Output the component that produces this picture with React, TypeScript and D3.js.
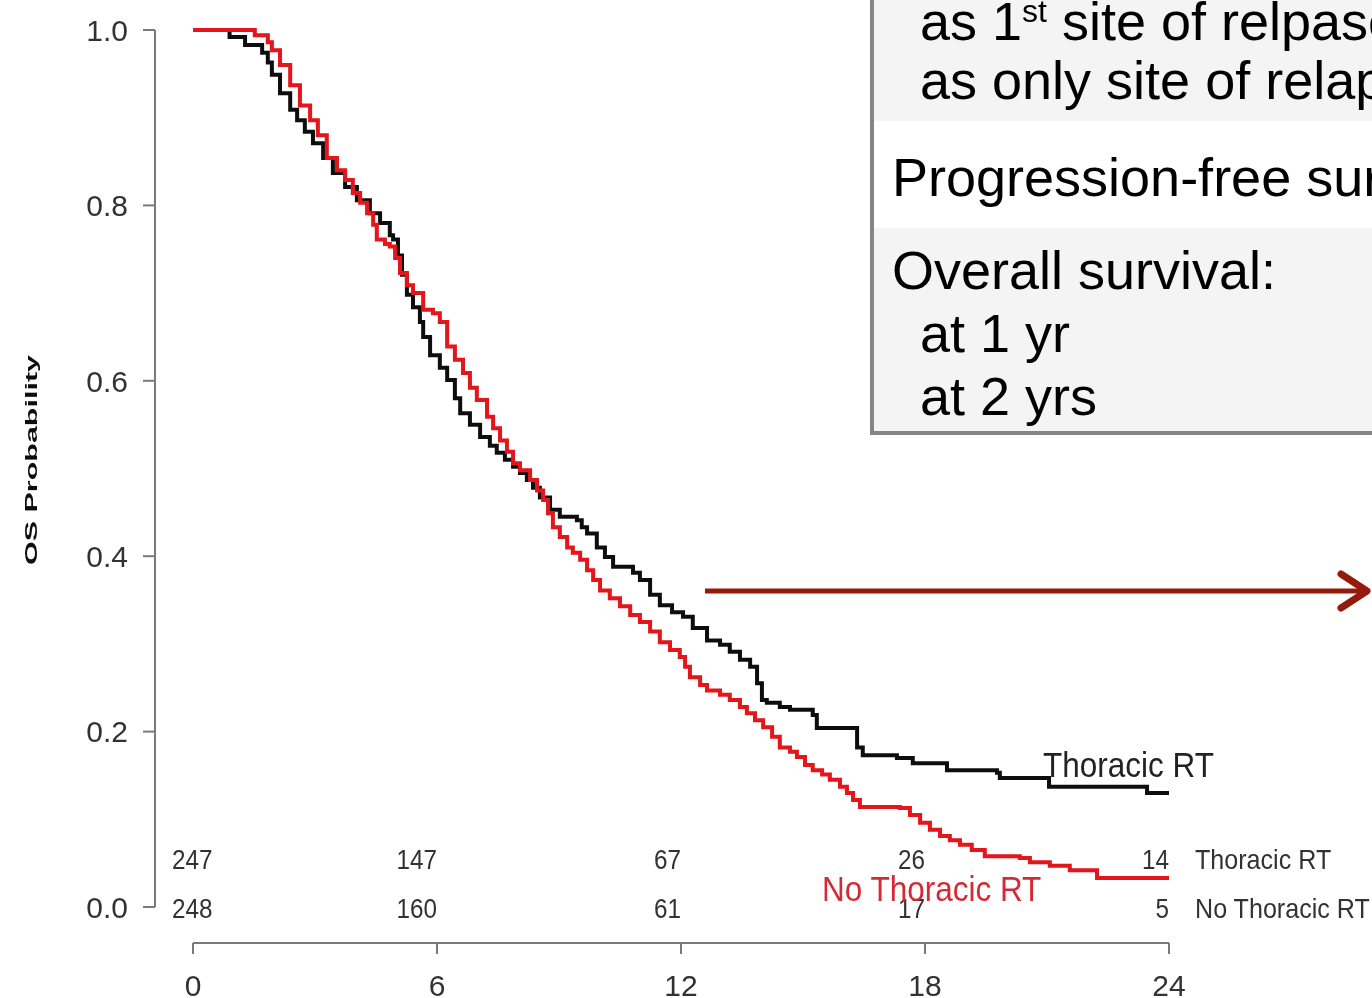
import React from "react";
import * as d3 from "d3";

// Kaplan–Meier estimates: [months, survival probability]
const thoracicRT: [number, number][] = [
  [0, 1.0], [0.7, 1.0], [0.9, 0.992], [1.28, 0.983], [1.7, 0.974], [1.84, 0.963], [1.94, 0.949],
  [2.14, 0.928], [2.39, 0.909], [2.56, 0.897], [2.75, 0.884], [2.95, 0.871], [3.2, 0.854],
  [3.44, 0.837], [3.74, 0.821], [4.03, 0.806], [4.35, 0.791], [4.6, 0.78], [4.84, 0.766],
  [4.92, 0.761], [5.04, 0.743], [5.14, 0.721], [5.26, 0.698], [5.41, 0.684], [5.58, 0.667],
  [5.66, 0.65], [5.83, 0.629], [6.07, 0.615], [6.25, 0.601], [6.44, 0.58], [6.57, 0.563],
  [6.81, 0.55], [7.06, 0.536], [7.3, 0.526], [7.47, 0.518], [7.67, 0.51], [7.87, 0.502],
  [8.04, 0.495], [8.21, 0.487], [8.36, 0.478], [8.53, 0.467], [8.78, 0.453], [9.02, 0.445],
  [9.44, 0.441], [9.56, 0.433], [9.69, 0.426], [9.93, 0.41], [10.13, 0.399], [10.33, 0.388],
  [10.82, 0.381], [10.99, 0.373], [11.24, 0.356], [11.48, 0.344], [11.78, 0.336], [12.05, 0.331],
  [12.29, 0.318], [12.64, 0.304], [12.96, 0.299], [13.2, 0.291], [13.45, 0.282], [13.7, 0.274],
  [13.87, 0.255], [13.99, 0.236], [14.11, 0.233], [14.43, 0.228], [14.68, 0.225], [15.24, 0.219],
  [15.34, 0.204], [16.15, 0.204], [16.33, 0.182], [16.47, 0.173], [17.31, 0.17], [17.7, 0.164],
  [18.54, 0.156], [19.77, 0.153], [19.84, 0.147], [21.0, 0.147], [21.05, 0.137], [23.41, 0.137],
  [23.46, 0.13], [24, 0.13],
];

const noThoracicRT: [number, number][] = [
  [0, 1.0], [1.16, 1.0], [1.52, 0.994], [1.84, 0.986], [1.94, 0.977], [2.14, 0.96], [2.39, 0.937],
  [2.63, 0.914], [2.88, 0.897], [3.07, 0.88], [3.29, 0.854], [3.54, 0.84], [3.74, 0.829],
  [3.93, 0.814], [4.11, 0.803], [4.28, 0.791], [4.43, 0.778], [4.52, 0.761], [4.72, 0.756],
  [4.84, 0.753], [4.97, 0.74], [5.09, 0.723], [5.26, 0.709], [5.41, 0.7], [5.66, 0.681],
  [5.9, 0.677], [6.07, 0.667], [6.25, 0.639], [6.44, 0.624], [6.64, 0.609], [6.81, 0.592],
  [6.98, 0.578], [7.23, 0.559], [7.38, 0.546], [7.55, 0.532], [7.72, 0.519], [7.87, 0.506],
  [8.04, 0.498], [8.29, 0.487], [8.46, 0.475], [8.61, 0.464], [8.73, 0.449], [8.85, 0.433],
  [9.02, 0.422], [9.2, 0.41], [9.34, 0.404], [9.52, 0.396], [9.69, 0.384], [9.84, 0.373],
  [10.01, 0.361], [10.25, 0.352], [10.5, 0.343], [10.75, 0.333], [10.99, 0.325], [11.24, 0.314],
  [11.48, 0.302], [11.73, 0.293], [11.97, 0.285], [12.1, 0.274], [12.22, 0.262], [12.47, 0.253],
  [12.64, 0.247], [12.96, 0.242], [13.2, 0.236], [13.45, 0.228], [13.62, 0.221], [13.82, 0.213],
  [14.02, 0.205], [14.24, 0.194], [14.43, 0.182], [14.68, 0.177], [14.85, 0.171], [15.05, 0.162],
  [15.24, 0.156], [15.47, 0.151], [15.66, 0.145], [15.91, 0.137], [16.08, 0.13], [16.23, 0.122],
  [16.4, 0.114], [17.38, 0.113], [17.63, 0.105], [17.88, 0.096], [18.12, 0.088], [18.37, 0.081],
  [18.61, 0.076], [18.86, 0.071], [19.15, 0.065], [19.47, 0.058], [20.33, 0.056], [20.58, 0.051],
  [21.07, 0.047], [21.56, 0.042], [22.18, 0.042], [22.23, 0.033], [24, 0.033],
];

// Numbers at risk
const riskTimes = [0, 6, 12, 18, 24];
const riskThoracic = [247, 147, 67, 26, 14];
const riskNoThoracic = [248, 160, 61, 17, 5];

const xTicks = [0, 6, 12, 18, 24];
const yTicks = [0, 0.2, 0.4, 0.6, 0.8, 1.0];

const W = 1372;
const H = 998;

const x = d3.scaleLinear().domain([0, 24]).range([193, 1169]);
const y = d3.scaleLinear().domain([0, 1]).range([907, 30]);

const kmLine = d3
  .line<[number, number]>()
  .x((d) => x(d[0]))
  .y((d) => y(d[1]))
  .curve(d3.curveStepAfter);

const plotFont = "'Liberation Sans', Arial, sans-serif";
const tickColor = "#333";
const axisColor = "#7a7a7a";

function Condensed(props: {
  x: number;
  y: number;
  size: number;
  fill: string;
  anchor?: "start" | "middle" | "end";
  sx?: number;
  children: React.ReactNode;
}) {
  const { sx = 0.9 } = props;
  return (
    <g transform={`translate(${props.x},${props.y}) scale(${sx},1)`}>
      <text
        x={0}
        y={0}
        fontFamily={plotFont}
        fontSize={props.size}
        fill={props.fill}
        textAnchor={props.anchor ?? "start"}
      >
        {props.children}
      </text>
    </g>
  );
}

export default function App() {
  const axisY = 943;
  const yAxisX = 155;
  return (
    <svg
      width={W}
      height={H}
      viewBox={`0 0 ${W} ${H}`}
      style={{ position: "absolute", left: 0, top: 0, background: "#fff" }}
    >
      <defs>
        <filter id="soft" x="-5%" y="-5%" width="110%" height="110%">
          <feGaussianBlur stdDeviation="0.55" />
        </filter>
      </defs>

      <g filter="url(#soft)">
        {/* y axis */}
        <line x1={yAxisX} x2={yAxisX} y1={y(1)} y2={y(0)} stroke={axisColor} strokeWidth={2} />
        {yTicks.map((t) => (
          <g key={t}>
            <line x1={yAxisX - 12} x2={yAxisX} y1={y(t)} y2={y(t)} stroke={axisColor} strokeWidth={2} />
            <text
              x={128}
              y={y(t)}
              dy="0.36em"
              textAnchor="end"
              fontFamily={plotFont}
              fontSize={30}
              fill={tickColor}
            >
              {t.toFixed(1)}
            </text>
          </g>
        ))}
        <g transform="translate(37,460) rotate(-90)">
          <text
            x={0}
            y={0}
            textAnchor="middle"
            fontFamily={plotFont}
            fontWeight="bold"
            fontSize={16}
            fill="#111"
            textLength={210}
            lengthAdjust="spacingAndGlyphs"
          >
            OS Probability
          </text>
        </g>

        {/* x axis */}
        <line x1={x(0)} x2={x(24)} y1={axisY} y2={axisY} stroke={axisColor} strokeWidth={2} />
        {xTicks.map((t) => (
          <g key={t}>
            <line x1={x(t)} x2={x(t)} y1={axisY} y2={axisY + 11} stroke={axisColor} strokeWidth={2} />
            <text
              x={x(t)}
              y={996}
              textAnchor="middle"
              fontFamily={plotFont}
              fontSize={30}
              fill={tickColor}
            >
              {t}
            </text>
          </g>
        ))}

        {/* numbers at risk */}
        {riskTimes.map((t, i) => (
          <g key={t}>
            <Condensed
              x={i === 0 ? x(t) - 21 : x(t)}
              y={869}
              size={27}
              fill="#333"
              anchor={i === 0 ? "start" : "end"}
            >
              {riskThoracic[i]}
            </Condensed>
            <Condensed
              x={i === 0 ? x(t) - 21 : x(t)}
              y={918}
              size={27}
              fill="#333"
              anchor={i === 0 ? "start" : "end"}
            >
              {riskNoThoracic[i]}
            </Condensed>
          </g>
        ))}
        <Condensed x={1195} y={869} size={27} fill="#333" sx={0.93}>
          Thoracic RT
        </Condensed>
        <Condensed x={1195} y={918} size={27} fill="#333" sx={0.93}>
          No Thoracic RT
        </Condensed>

        {/* survival curves */}
        <path d={kmLine(thoracicRT) ?? ""} fill="none" stroke="#111" strokeWidth={4} />
        <path d={kmLine(noThoracicRT) ?? ""} fill="none" stroke="#e3141b" strokeWidth={4} />

        <Condensed x={1043} y={777} size={35} fill="#222">
          Thoracic RT
        </Condensed>
        <Condensed x={822} y={901} size={35} fill="#d42c34">
          No Thoracic RT
        </Condensed>
      </g>

      {/* arrow */}
      <line x1={705} x2={1364} y1={591} y2={591} stroke="#951a0b" strokeWidth={5} />
      <polyline
        points="1341,574 1367,591 1341,608"
        fill="none"
        stroke="#951a0b"
        strokeWidth={7}
        strokeLinecap="round"
        strokeLinejoin="round"
      />

      {/* summary panel */}
      <g fontFamily="'Liberation Sans', Arial, sans-serif" fontSize={54} fill="#000">
        <rect x={872} y={-10} width={520} height={443} fill="#f4f4f4" stroke="#858585" strokeWidth={4} />
        <rect x={874} y={121} width={520} height={107} fill="#ffffff" />
        <text x={920} y={40}>
          as 1
          <tspan fontSize={32} dy={-18}>
            st
          </tspan>
          <tspan dy={18}> site of relpase</tspan>
        </text>
        <text x={920} y={99}>
          as only site of relapse
        </text>
        <text x={892} y={196}>
          Progression-free survival
        </text>
        <text x={892} y={289}>
          Overall survival:
        </text>
        <text x={920} y={352}>
          at 1 yr
        </text>
        <text x={920} y={415}>
          at 2 yrs
        </text>
      </g>
    </svg>
  );
}
